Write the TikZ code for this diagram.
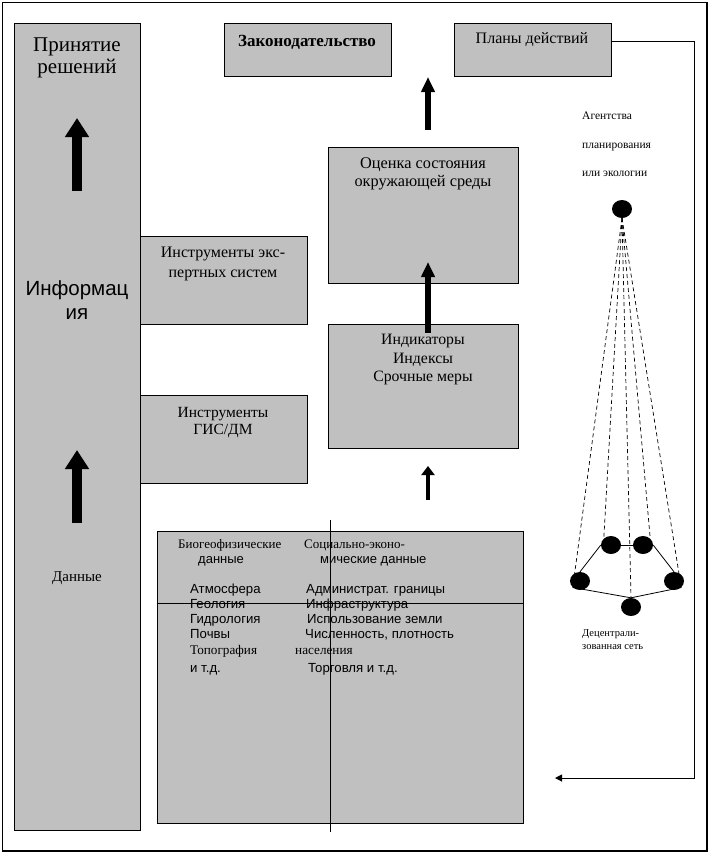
\documentclass[tikz,border=0pt]{standalone}
\usepackage{fontspec}
\setmainfont{Liberation Serif}
\setsansfont{Liberation Sans}
\usetikzlibrary{arrows.meta, calc, shapes.geometric}
\definecolor{boxGray}{HTML}{C0C0C0}

\begin{document}
\begin{tikzpicture}[x=1pt, y=-1pt, line join=miter]
		
		\tikzset{
			panel/.style={draw, fill=boxGray, line width=1pt, inner sep=0pt, outer sep=0pt, anchor=north west},
			caption/.style={inner sep=0pt, align=center},
			bigArrow/.style={line width=10pt, -{Triangle[width=23pt, length=19pt]}},
			midArrow/.style={line width=6pt, -{Triangle[width=13pt, length=15pt]}},
			smallArrow/.style={line width=4.5pt, -{Triangle[width=13pt, length=9pt]}},
			hub/.style={ellipse, fill=black, minimum width=20pt, minimum height=18pt, inner sep=0pt},
			link/.style={dash pattern=on 4pt off 3pt, line width=0.7pt},
			rowtext/.style={inner sep=0pt, anchor=west, text height=9.5pt, text depth=2.5pt},
		}
		
		% --- 1. Page and frame ---
		\useasboundingbox (0,0) rectangle (710,854);
		\draw[line width=1.5pt] (2.5,2.5) rectangle (707,851);
		
		% --- 2. Boxes ---
		\node[panel, minimum width=126pt, minimum height=807pt] (decide) at (14,23) {};
		\node[panel, minimum width=167pt, minimum height=53pt] (law) at (224,23) {};
		\node[panel, minimum width=157pt, minimum height=53pt] (plans) at (454,23) {};
		\node[panel, minimum width=190pt, minimum height=136pt] (assess) at (328,147) {};
		\node[panel, minimum width=190pt, minimum height=124pt] (ind) at (328,324) {};
		\node[panel, minimum width=167pt, minimum height=88pt] (expert) at (140,236) {};
		\node[panel, minimum width=167pt, minimum height=88pt] (gis) at (140,395) {};
		\node[panel, minimum width=366pt, minimum height=292pt] (data) at (157,531) {};
		
		% cross inside the data box
		\coordinate (rowLine) at (0,603);
		\coordinate (colTop) at (330,520);
		\coordinate (colBot) at (330,832);
		\draw[line width=1pt] (data.west |- rowLine) -- (data.east |- rowLine);
		\draw[line width=1pt] (colTop) -- (colBot);
		
		% --- 3. Box texts ---
		\node[caption, font=\fontsize{21}{22}\selectfont] (decideTxt) at (77,58) {Принятие\\решений};
		\node[caption, font=\sffamily\fontsize{20.5}{24}\selectfont] (infoTxt) at (77,300) {Информац\\ия};
		\node[caption, font=\fontsize{15}{17}\selectfont] (dataTxt) at (77,578) {Данные};
		\node[caption, font=\bfseries\fontsize{17}{18}\selectfont] (lawTxt) at (307,42) {Законодательство};
		\node[caption, font=\fontsize{16}{18}\selectfont] (plansTxt) at (532,40) {Планы действий};
		\node[caption, font=\fontsize{16.3}{18}\selectfont] (assessTxt) at (423,174) {Оценка состояния\\окружающей среды};
		\node[caption, font=\fontsize{15.8}{18.5}\selectfont] (indTxt) at (423,360) {Индикаторы\\Индексы\\Срочные меры};
		\node[caption, font=\fontsize{16}{20}\selectfont] (expertTxt) at (223,264) {Инструменты экс-\\пертных систем};
		\node[caption, font=\fontsize{15.5}{17}\selectfont] (gisTxt) at (223,423) {Инструменты\\ГИС/ДМ};
		
		% --- 4. Data table ---
		\node[rowtext, font=\fontsize{13}{14}\selectfont] (bioHead) at (178,545) {Биогеофизические};
		\node[rowtext, font=\sffamily\fontsize{13}{15}\selectfont] (bioHead2) at (198,560) {данные};
		\node[rowtext, font=\fontsize{13}{14}\selectfont] (socHead) at (304,545) {Социально-эконо-};
		\node[rowtext, font=\sffamily\fontsize{13}{15}\selectfont] (socHead2) at (320,560) {мические данные};
		
		\foreach \txt/\yy/\ff [count=\i] in {Атмосфера/590/\sffamily, Геология/605/\sffamily, Гидрология/620/\sffamily,
			Почвы/635/\sffamily, Топография/651/\rmfamily, и т.д./669/\sffamily} {
			\node[rowtext, font=\ff\fontsize{13.2}{15}\selectfont] (bio\i) at (190,\yy) {\txt};
		}
		\foreach \txt/\xx/\yy/\ff [count=\i] in {Администрат. границы/306/590/\sffamily, Инфраструктура/306/605/\sffamily,
			Использование земли/307/620/\sffamily, {Численность, плотность}/305/635/\sffamily,
			населения/295/651/\rmfamily, Торговля и т.д./308/669/\sffamily} {
			\node[rowtext, font=\ff\fontsize{13.2}{15}\selectfont] (soc\i) at (\xx,\yy) {\txt};
		}
		
		% --- 5. Thick arrows ---
		\coordinate (decLowA) at (77,523);
		\coordinate (decLowB) at (77,450);
		\coordinate (decUpA) at (77,191);
		\coordinate (decUpB) at (77,118);
		\draw[bigArrow] (decLowA) -- (decLowB);
		\draw[bigArrow] (decUpA) -- (decUpB);
		
		\coordinate (midA) at (428,500);
		\coordinate (midB) at (428,466);
		\coordinate (midC) at (428,333);
		\coordinate (midD) at (428,262);
		\coordinate (midE) at (428,130);
		\coordinate (midF) at (428,77);
		\draw[smallArrow] (midA) -- (midB);
		\draw[midArrow] (midC) -- (midD);
		\draw[midArrow] (midE) -- (midF);
		
		% --- 6. Feedback line from the action plans ---
		\coordinate (corner) at (694,778);
		\coordinate (back) at (555,778);
		\draw[line width=1pt, -{Triangle[width=7pt, length=7pt]}] ([yshift=-18pt]plans.north east) -| (corner) -- (back);
		
		% --- 7. Network ---
		\node[inner sep=0pt, anchor=west, align=left, font=\fontsize{11.5}{28.5}\selectfont] (agencyTxt) at (582,144.5) {Агентства\\планирования\\или экологии};
		
		\node[hub] (agency) at (622,209) {};
		\node[hub] (n1) at (611,545) {};
		\node[hub] (n2) at (643,545) {};
		\node[hub] (n3) at (580,581) {};
		\node[hub] (n4) at (674,581) {};
		\node[hub] (n5) at (631,607) {};
		
		\draw[line width=0.8pt] (n1) -- (n2);
		\draw[line width=0.8pt] (n1.west) -- (n3.north);
		\draw[line width=0.8pt] (n2.east) -- (n4.north);
		\draw[line width=0.8pt] (n3.south west) -- (n5.north) -- (n4.south east);
		
		\foreach \t in {n3.south west, n1.north west, n5.north, n2.north east, n4.south east} {
			\draw[link] (agency.south) -- (\t);
		}
		
		\node[inner sep=0pt, anchor=west, align=left, font=\fontsize{10.5}{13}\selectfont] (netTxt) at (582,640) {Децентрали-\\зованная сеть};
		
	\end{tikzpicture}
\end{document}
